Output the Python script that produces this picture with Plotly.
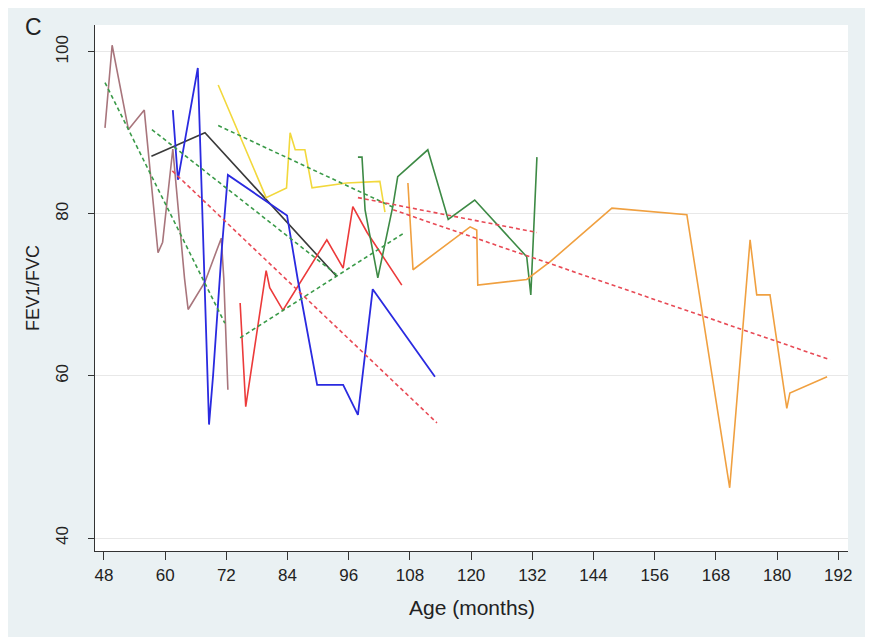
import plotly.graph_objects as go

# ---- data (age in months, FEV1/FVC) ----
brown_age = [48.2, 49.6, 52.8, 55.9, 58.6, 59.5, 61.5, 63.8, 64.5, 67.8, 71.0, 71.5, 72.3]
brown_val = [90.6, 100.8, 90.4, 92.8, 75.2, 76.5, 88.0, 72.0, 68.2, 71.6, 77.0, 72.0, 58.3]

blue_age = [61.5, 62.5, 66.4, 68.6, 69.4, 70.5, 71.1, 72.3, 83.9, 86.0, 89.8, 94.9, 97.8, 100.7, 112.9]
blue_val = [92.8, 84.2, 98.0, 54.0, 60.1, 70.6, 75.6, 84.8, 79.8, 71.9, 58.9, 58.9, 55.2, 70.7, 59.9]

black_age = [57.3, 67.8, 93.6]
black_val = [87.1, 90.0, 72.3]

yellow_age = [70.4, 79.8, 83.8, 84.5, 85.5, 87.4, 88.8, 95.6, 102.1, 103.1]
yellow_val = [95.9, 82.0, 83.2, 90.0, 87.9, 87.9, 83.2, 83.8, 84.0, 80.2]

red_age = [74.7, 75.8, 79.8, 80.5, 83.1, 89.8, 91.7, 94.9, 96.8, 99.6, 106.4]
red_val = [69.0, 56.2, 73.0, 70.9, 68.1, 74.8, 76.8, 73.3, 80.9, 77.7, 71.2]

green_age = [97.8, 98.6, 99.2, 101.7, 104.7, 105.6, 111.5, 115.5, 120.7, 130.9, 131.7, 132.9]
green_val = [87.0, 87.0, 80.5, 72.1, 81.1, 84.6, 87.9, 79.3, 81.7, 74.7, 70.0, 87.0]

orange_age = [107.6, 108.6, 119.8, 121.1, 121.3, 130.9, 135.5, 147.6, 162.3, 170.7, 174.7, 176.0, 178.6, 181.9, 182.5, 189.8]
orange_val = [83.8, 73.1, 78.4, 78.0, 71.2, 71.9, 74.1, 80.7, 79.9, 46.2, 76.8, 70.0, 70.0, 56.0, 57.9, 59.9]

# fitted (dashed) lines: [start age, end age], [start value, end value]
green_fit_ages = [[48.2, 71.7], [57.4, 93.6], [70.4, 105.1], [74.7, 107.0]]
green_fit_vals = [[96.2, 66.5], [90.4, 72.5], [90.9, 80.7], [64.7, 77.7]]
red_fit_ages = [[61.4, 113.3], [97.8, 132.9], [104.7, 190.4]]
red_fit_vals = [[85.3, 54.2], [82.0, 77.7], [80.5, 62.0]]

x_ticks = [48, 60, 72, 84, 96, 108, 120, 132, 144, 156, 168, 180, 192]
y_ticks = [40, 60, 80, 100]

fig = go.Figure()

def add_line(x, y, color, width=1.6, dash=None):
    fig.add_trace(go.Scatter(x=x, y=y, mode="lines",
                             line=dict(color=color, width=width, dash=dash),
                             showlegend=False, hoverinfo="skip"))

add_line(brown_age, brown_val, "#a8757c")
add_line(black_age, black_val, "#3a3a3a")
add_line(yellow_age, yellow_val, "#f2d83c")
add_line(red_age, red_val, "#ec3a3a")
add_line(green_age, green_val, "#3d8a45")
add_line(orange_age, orange_val, "#f0a040")
add_line(blue_age, blue_val, "#2a2ae0", width=1.8)

for xa, va in zip(green_fit_ages, green_fit_vals):
    add_line(xa, va, "#3a9a48", width=1.6, dash="4px,3px")
for xa, va in zip(red_fit_ages, red_fit_vals):
    add_line(xa, va, "#e84a55", width=1.6, dash="4px,3px")

narrow = "Liberation Sans Narrow, Arial Narrow, Liberation Sans, sans-serif"
regular = "Liberation Sans, Arial, sans-serif"

# plot area in figure pixels: left 87, right 840, top 17, bottom 543
L, R, T, B = 87, 840, 17, 543
W, H = 873, 637

fig.update_layout(
    width=W, height=H,
    margin=dict(l=L, r=W - R, t=T, b=H - B),
    paper_bgcolor="#eaf1f3",
    plot_bgcolor="#ffffff",
    font=dict(family=narrow, size=17, color="#222222"),
    xaxis=dict(
        range=[46.24, 193.9], tickvals=x_ticks, ticks="outside", ticklen=8,
        tickwidth=1.2, tickcolor="#333333", showgrid=False, zeroline=False,
        showline=True, linecolor="#333333", linewidth=1.2,
        tickfont=dict(size=17, family=narrow),
    ),
    yaxis=dict(
        range=[38.4, 103.3], tickvals=y_ticks, ticks="outside", ticklen=6,
        tickwidth=1.2, tickcolor="#333333", showgrid=True, gridcolor="#e8e8e8",
        gridwidth=1.2, zeroline=False, showline=True, linecolor="#333333",
        linewidth=1.2, tickangle=-90, ticklabelstandoff=13,
        tickfont=dict(size=17, family=narrow),
    ),
    annotations=[
        dict(text="C", x=(25 - L) / (R - L), y=(B - 19) / (B - T),
             xref="paper", yref="paper", showarrow=False,
             xanchor="center", yanchor="middle",
             font=dict(size=23, family=regular, color="#222222")),
        dict(text="Age (months)", x=0.5, y=-(599 - B) / (B - T),
             xref="paper", yref="paper",
             showarrow=False, xanchor="center", yanchor="middle",
             font=dict(size=21, family=narrow)),
        dict(text="FEV1/FVC", x=(25 - L) / (R - L), y=0.5,
             xref="paper", yref="paper",
             showarrow=False, textangle=-90, xanchor="center", yanchor="middle",
             font=dict(size=18, family=narrow)),
    ],
)

fig.write_html("out.html")
